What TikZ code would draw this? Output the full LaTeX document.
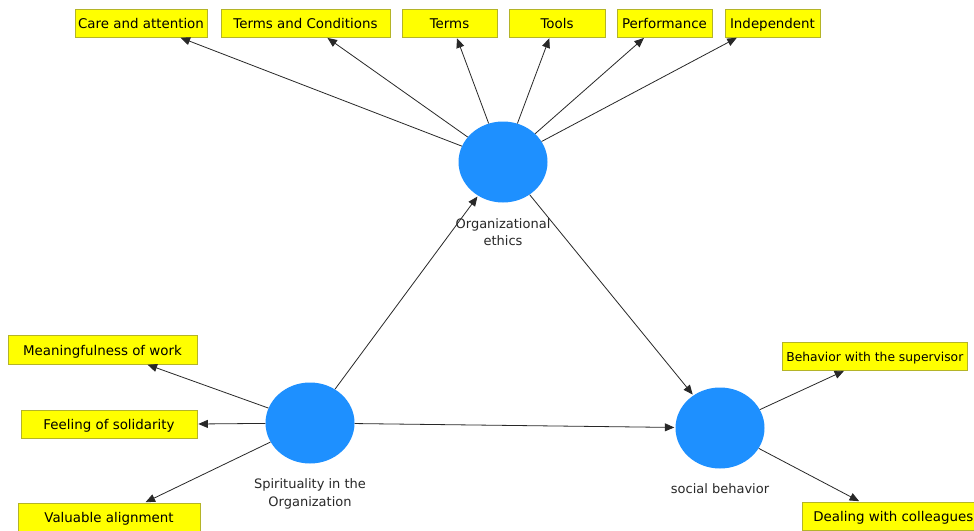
\documentclass[tikz,border=0pt]{standalone}
\usepackage{fontspec}
\setmainfont{DejaVu Sans}
\usetikzlibrary{arrows.meta,shapes.geometric,calc}
\definecolor{boxfill}{RGB}{255,255,0}
\definecolor{boxline}{RGB}{180,180,40}
\definecolor{lv}{RGB}{30,144,255}
\definecolor{ink}{RGB}{40,40,40}
\begin{document}
\begin{tikzpicture}[x=1pt,y=-1pt,
  ind/.style={draw=boxline, fill=boxfill, line width=0.7pt, minimum height=28pt, inner sep=0pt, text height=12.5pt, text depth=1.5pt, font=\fontsize{13.4}{16}\selectfont, text=black},
  lat/.style={ellipse, fill=lv, minimum width=89pt, minimum height=81pt, inner sep=0pt},
  lab/.style={font=\fontsize{13}{17.5}\selectfont, text=ink, align=center},
  con/.style={draw=ink, line width=0.8pt, shorten >=1pt, -{Triangle[length=9.5pt,width=8pt]}}
]
\useasboundingbox (0,0) rectangle (974,530);
\fill[white] (0,0) rectangle (974,530);

% latent variables
\node[lat] (oe) at (503,162) {};
\node[lat] (sp) at (310,423) {};
\node[lat] (sb) at (720,428) {};

% labels
\node[lab] (oelab) at (503,232) {Organizational\\ethics};
\node[lab] (splab) at (310,494) {Spirituality in the\\Organization};
\node[lab] (sblab) at (720,489) {social behavior};

% indicator boxes (top)
\node[ind, minimum width=132pt] (care)  at (141,23)   {Care and attention};
\node[ind, minimum width=169pt] (tc)    at (305.5,23) {Terms and Conditions};
\node[ind, minimum width=95pt]  (terms) at (449.5,23) {Terms};
\node[ind, minimum width=96pt]  (tools) at (557,23)   {Tools};
\node[ind, minimum width=95pt]  (perf)  at (664.5,23) {Performance};
\node[ind, minimum width=95pt]  (indep) at (772.5,23) {Independent};

% indicator boxes (left)
\node[ind, minimum width=189pt, minimum height=29pt] (mean) at (102.5,349.5) {Meaningfulness of work};
\node[ind, minimum width=176pt] (feel) at (109,424) {Feeling of solidarity};
\node[ind, minimum width=182pt] (val)  at (109,517) {Valuable alignment};

% indicator boxes (right)
\node[ind, anchor=west, inner xsep=4pt, font=\fontsize{12.3}{15}\selectfont] (beh)  at (782,356) {Behavior with the supervisor};
\node[ind, anchor=west, inner xsep=11pt] (deal) at (802,516) {Dealing with colleagues};

% structural paths
\draw[con] (sp) -- (oe);
\draw[con] (oe) -- (sb);
\draw[con] (sp) -- (sb);

% measurement paths
\draw[con] (oe) -- ($(care.south west)+(105,0)$);
\draw[con] (oe) -- ($(tc.south west)+(106,0)$);
\draw[con] (oe) -- ($(terms.south west)+(55,0)$);
\draw[con] (oe) -- ($(tools.south west)+(41,0)$);
\draw[con] (oe) -- ($(perf.south west)+(28,0)$);
\draw[con] (oe) -- ($(indep.south west)+(13,0)$);

\draw[con] (sp) -- ($(mean.south west)+(139,0)$);
\draw[con] (sp) -- (feel.east);
\draw[con] (sp) -- ($(val.north west)+(127,0)$);

\draw[con] (sb) -- ($(beh.south west)+(63,0)$);
\draw[con] (sb) -- ($(deal.north west)+(58,0)$);
\end{tikzpicture}
\end{document}
